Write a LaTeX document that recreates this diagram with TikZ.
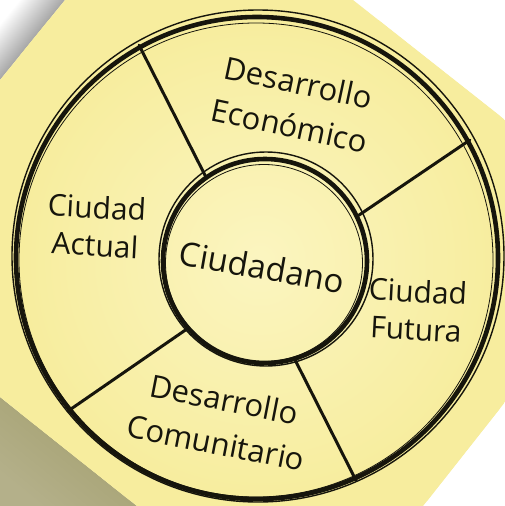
\documentclass[tikz,border=0pt]{standalone}
\usepackage{fontspec}
\setmainfont{Open Sans}
\definecolor{inkc}{HTML}{16150C}
\definecolor{notey}{HTML}{F7ED9E}
\definecolor{notelight}{HTML}{FBF5C0}
\definecolor{olivec}{HTML}{A29E6C}
\definecolor{olivelight}{HTML}{B4B08A}
\begin{document}
\begin{tikzpicture}[x=1pt,y=-1pt,
  ring/.style={circle, draw=inkc, inner sep=0pt},
  spoke/.style={draw=inkc, line width=3pt, line cap=round},
  brush/.style={draw=inkc, line width=1.4pt},
  lbl/.style={text=inkc, align=center, inner sep=0pt, font=\fontsize{31}{44}\selectfont},
  lbls/.style={text=inkc, align=center, inner sep=0pt, font=\fontsize{30}{38}\selectfont},
]
\useasboundingbox (0,0) rectangle (505,506);
\fill[white] (0,0) rectangle (505,506);
% shadow at top-left corner
\begin{scope}
  \clip (0,0) -- (65,0) -- (0,80) -- cycle;
  \shade[top color=white, bottom color=black!70, shading angle=51] (0,0) rectangle (65,80);
\end{scope}
% olive area at bottom-left
\shade[top color=olivec, bottom color=olivelight, shading angle=-39] (0,397) -- (137,506) -- (0,506) -- cycle;
% sticky note
\begin{scope}
  \clip (65,0) -- (353,0) -- (505,120) -- (505,402) -- (423,506) -- (137,506) -- (0,397) -- (0,80) -- cycle;
  \fill[notey] (0,0) rectangle (505,506);
  \shade[inner color=notelight, outer color=notey] (20,20) rectangle (500,500);
\end{scope}

% rings
\node[ring, line width=4.6pt, minimum size=482pt] (outer) at (257,258) {};
\draw[brush] (258,256) circle (246);
\draw[brush, line width=0.8pt] (256,260) circle (237);
\node[ring, line width=4.6pt, minimum size=204pt] (inner) at (265,261) {};
\draw[brush] (266,259) circle (107);
\draw[brush, line width=0.8pt] (264,263) circle (98.5);

% spokes
\draw[spoke] (inner.125.6) -- (outer.119.4);
\draw[spoke] (inner.26) -- (outer.29.3);
\draw[spoke] (inner.-73.9) -- (outer.-66.3);
\draw[spoke] (inner.221) -- (outer.219);

% labels
\node[lbl, rotate=-10, font=\fontsize{33}{40}\selectfont] (ciud) at (262,267) {Ciudadano};
\node[lbl, rotate=-12] (econ) at (294,104) {Desarrollo\\Económico};
\node[lbl, rotate=-11] (comu) at (220,421) {Desarrollo\\Comunitario};
\node[lbls, rotate=-3] (actual) at (96,226) {Ciudad\\Actual};
\node[lbls, rotate=-3] (futura) at (417,310) {Ciudad\\Futura};
\end{tikzpicture}
\end{document}
